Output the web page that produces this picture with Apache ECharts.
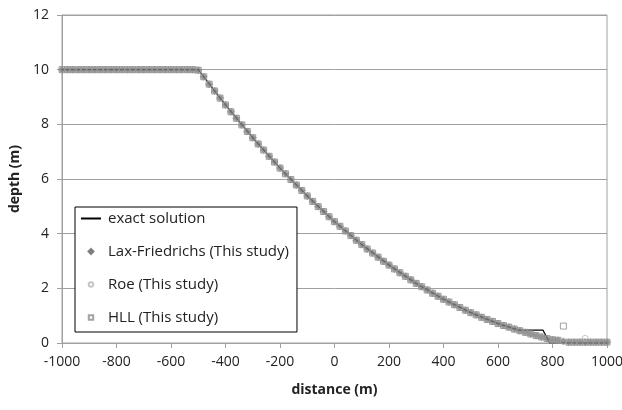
<!DOCTYPE html>
<html>
<head>
<meta charset="utf-8">
<script src="https://cdn.jsdelivr.net/npm/echarts@6/dist/echarts.min.js"></script>
<style>
  html, body { margin: 0; padding: 0; background: #fff; }
  #chart { width: 622px; height: 410px; }
</style>
</head>
<body>
<div id="chart"></div>
<script>
// 网格点 (m)
const xs = [
    -1000, -980, -960, -940, -920, -900, -880, -860, -840, -820,
    -800, -780, -760, -740, -720, -700, -680, -660, -640, -620,
    -600, -580, -560, -540, -520, -500, -480, -460, -440, -420,
    -400, -380, -360, -340, -320, -300, -280, -260, -240, -220,
    -200, -180, -160, -140, -120, -100, -80, -60, -40, -20,
    0, 20, 40, 60, 80, 100, 120, 140, 160, 180,
    200, 220, 240, 260, 280, 300, 320, 340, 360, 380,
    400, 420, 440, 460, 480, 500, 520, 540, 560, 580,
    600, 620, 640, 660, 680, 700, 720, 740, 760, 780,
    800, 820, 840, 860, 880, 900, 920, 940, 960, 980,
    1000
];

// Lax-Friedrichs 水深 (m)
const lfDepth = [
    10, 10, 10, 10, 10, 10, 10, 10, 10, 10,
    10, 10, 10, 10, 10, 10, 10, 10, 10, 10,
    10, 10, 10, 10, 10, 9.98, 9.74, 9.47, 9.22, 8.96,
    8.71, 8.46, 8.22, 7.98, 7.74, 7.51, 7.28, 7.06, 6.83, 6.62,
    6.40, 6.19, 5.98, 5.78, 5.58, 5.38, 5.18, 4.99, 4.81, 4.62,
    4.44, 4.27, 4.10, 3.93, 3.76, 3.60, 3.44, 3.29, 3.14, 2.99,
    2.85, 2.71, 2.57, 2.44, 2.31, 2.18, 2.06, 1.94, 1.82, 1.71,
    1.60, 1.50, 1.40, 1.30, 1.20, 1.11, 1.03, 0.94, 0.86, 0.79,
    0.71, 0.64, 0.58, 0.51, 0.45, 0.39, 0.33, 0.27, 0.22, 0.16,
    0.12, 0.10, 0.06, 0.03, 0.03, 0.03, 0.03, 0.03, 0.03, 0.03,
    0.03
];

// Roe / HLL 与 LF 基本重合，只有个别点不同
const roeDiff = { x: [920], depth: [0.17] };
const hllDiff = { x: [840], depth: [0.62] };

// 解析解
const exactX = [-1000, -500, -400, -300, -200, -100, 0, 100, 200, 300, 400, 500, 600, 676, 765, 790, 1000];
const exactDepth = [10, 10, 8.71, 7.51, 6.40, 5.38, 4.44, 3.60, 2.85, 2.18, 1.60, 1.11, 0.71, 0.47, 0.47, 0, 0];

function withDiff(base, diff) {
    const out = base.slice();
    diff.x.forEach((x, i) => { out[xs.indexOf(x)] = diff.depth[i]; });
    return out;
}

const roeDepth = withDiff(lfDepth, roeDiff);
const hllDepth = withDiff(lfDepth, hllDiff);

const pairs = (xArr, yArr) => xArr.map((x, i) => [x, yArr[i]]);

// 图例图标：两端加零长度子路径，使包围盒为 20x6，避免拉伸
const pad = 'M0,3 L0,3 M20,3 L20,3 ';
const icons = {
    diamond: 'path://' + pad + 'M10,0.5 L12.5,3 L10,5.5 L7.5,3 Z',
    circle: 'path://' + pad + 'M12.3,3 A2.3,2.3 0 1,1 7.7,3 A2.3,2.3 0 1,1 12.3,3 Z',
    square: 'path://' + pad + 'M7.8,0.8 L12.2,0.8 L12.2,5.2 L7.8,5.2 Z'
};

const chart = echarts.init(document.getElementById('chart'));
const font = '"Open Sans", Lato, sans-serif';
const textColor = '#222';

const option = {
    animation: false,
    backgroundColor: '#fff',
    textStyle: { fontFamily: font },
    grid: {
        left: 62,
        right: 15,
        top: 15,
        bottom: 67,
        outerBoundsMode: 'none',
        containLabel: false,
        show: true,
        borderColor: '#a0a0a0',
        borderWidth: 1
    },
    legend: {
        orient: 'vertical',
        left: 75,
        top: 207,
        backgroundColor: '#fff',
        borderColor: '#000',
        borderWidth: 1,
        borderRadius: 0,
        padding: [4, 8, 7, 5],
        itemWidth: 20,
        itemHeight: 6,
        itemGap: 18,
        textStyle: { fontSize: 15, color: textColor, fontFamily: font, padding: [0, 0, 0, 2] },
        data: [
            { name: 'exact solution', itemStyle: { opacity: 0 } },
            { name: 'Lax-Friedrichs (This study)', icon: icons.diamond },
            { name: 'Roe (This study)', icon: icons.circle },
            { name: 'HLL (This study)', icon: icons.square }
        ]
    },
    xAxis: {
        type: 'value',
        min: -1000,
        max: 1000,
        interval: 200,
        name: 'distance (m)',
        nameLocation: 'middle',
        nameGap: 40,
        nameTextStyle: { fontSize: 14, fontWeight: 'bold', color: textColor },
        axisLine: { onZero: false, lineStyle: { color: '#a0a0a0' } },
        axisTick: { show: true, length: 5, lineStyle: { color: '#a0a0a0' } },
        axisLabel: { fontSize: 14, color: textColor, margin: 12, formatter: v => String(v) },
        splitLine: { show: false }
    },
    yAxis: {
        type: 'value',
        min: 0,
        max: 12,
        interval: 2,
        name: 'depth (m)',
        nameLocation: 'middle',
        nameGap: 40,
        nameTextStyle: { fontSize: 14, fontWeight: 'bold', color: textColor },
        axisLine: { show: true, onZero: false, lineStyle: { color: '#a0a0a0' } },
        axisTick: { show: true, length: 5, lineStyle: { color: '#a0a0a0' } },
        axisLabel: { fontSize: 14, color: textColor, margin: 13, formatter: v => String(v) },
        splitLine: { show: true, lineStyle: { color: '#a0a0a0', width: 1 } }
    },
    series: [
        {
            name: 'exact solution',
            type: 'line',
            symbol: 'none',
            lineStyle: { color: '#000', width: 1.2 },
            itemStyle: { color: '#000' },
            z: 1,
            data: pairs(exactX, exactDepth)
        },
        {
            name: 'Lax-Friedrichs (This study)',
            type: 'scatter',
            symbol: 'diamond',
            symbolSize: 7,
            itemStyle: { color: '#7a7a7a', borderColor: '#6a6a6a', borderWidth: 0.5 },
            z: 2,
            data: pairs(xs, lfDepth)
        },
        {
            name: 'Roe (This study)',
            type: 'scatter',
            symbol: 'circle',
            symbolSize: 6,
            itemStyle: { color: 'rgba(255,255,255,0)', borderColor: '#b8b8b8', borderWidth: 1 },
            z: 3,
            data: pairs(xs, roeDepth)
        },
        {
            name: 'HLL (This study)',
            type: 'scatter',
            symbol: 'rect',
            symbolSize: 6,
            itemStyle: { color: 'rgba(255,255,255,0)', borderColor: '#8c8c8c', borderWidth: 1 },
            z: 4,
            data: pairs(xs, hllDepth)
        }
    ]
};

chart.setOption(option);
</script>
</body>
</html>
